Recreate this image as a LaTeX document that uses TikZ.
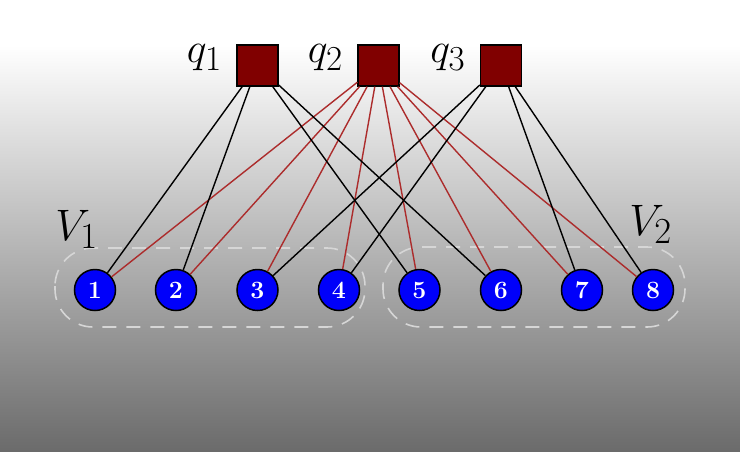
\documentclass[tikz,border=0pt]{standalone}
\usepackage{xcolor}
\usepackage{tikz}
\usetikzlibrary{positioning}
\definecolor{queryred}{RGB}{128,0,0}
\definecolor{edgered}{RGB}{172,44,44}
\definecolor{vertexblue}{RGB}{0,0,250}
\definecolor{setgray}{RGB}{214,214,214}

\begin{document}
\begin{tikzpicture}[
        x=1pt, y=-1pt,
        query/.style={rectangle, draw=black, line width=1.3pt, fill=queryred, minimum size=41pt, inner sep=0pt},
        vertex/.style={circle, draw=black, line width=1.5pt, fill=vertexblue, minimum size=41pt, inner sep=0pt, text=white, font=\Huge\bfseries},
        qlabel/.style={inner sep=0pt, font=\Huge, scale=1.69},
        setlabel/.style={inner sep=0pt, font=\Huge, scale=1.77},
        setbox/.style={draw=setgray, line width=1.6pt, dash pattern=on 14pt off 10pt, rounded corners=38pt},
        plainedge/.style={draw=black, line width=1.4pt},
        rededge/.style={draw=edgered, line width=1.4pt}
    ]
        % Background
        \useasboundingbox (0,0) rectangle (740,451);
        \fill[white] (0,0) rectangle (740,46);
        \shade[top color=white, bottom color=black!58] (0,45) rectangle (740,451);

        % Query nodes
        \node[query] (q1) at (257.5,65.5) {};
        \node[query] (q2) at (378.5,65.5) {};
        \node[query] (q3) at (501,65.5) {};
        \node[qlabel, left=14pt of q1, yshift=4.5pt] (q1lab) {$q_1$};
        \node[qlabel, left=14pt of q2, yshift=4.5pt] (q2lab) {$q_2$};
        \node[qlabel, left=14pt of q3, yshift=4.5pt] (q3lab) {$q_3$};

        % Vertex sets
        \draw[setbox] (55,248) rectangle (365,327);
        \draw[setbox] (383,247) rectangle (685,327);
        \node[setlabel, anchor=base west] (v1lab) at (55,240) {$V_1$};
        \node[setlabel, anchor=base west] (v2lab) at (629,235) {$V_2$};

        % Vertices
        \node[vertex] (n1) at (95,290)  {1};
        \node[vertex] (n2) at (176,290) {2};
        \node[vertex] (n3) at (257.5,290) {3};
        \node[vertex] (n4) at (339,290) {4};
        \node[vertex] (n5) at (419.5,290) {5};
        \node[vertex] (n6) at (501,290) {6};
        \node[vertex] (n7) at (582,290) {7};
        \node[vertex] (n8) at (653,290) {8};

        % Edges
        \foreach \n in {1,...,8}
            \draw[rededge] (q2) -- (n\n);
        \foreach \n in {1,2,5,6}
            \draw[plainedge] (q1) -- (n\n);
        \foreach \n in {3,4,7,8}
            \draw[plainedge] (q3) -- (n\n);
    \end{tikzpicture}
\end{document}
